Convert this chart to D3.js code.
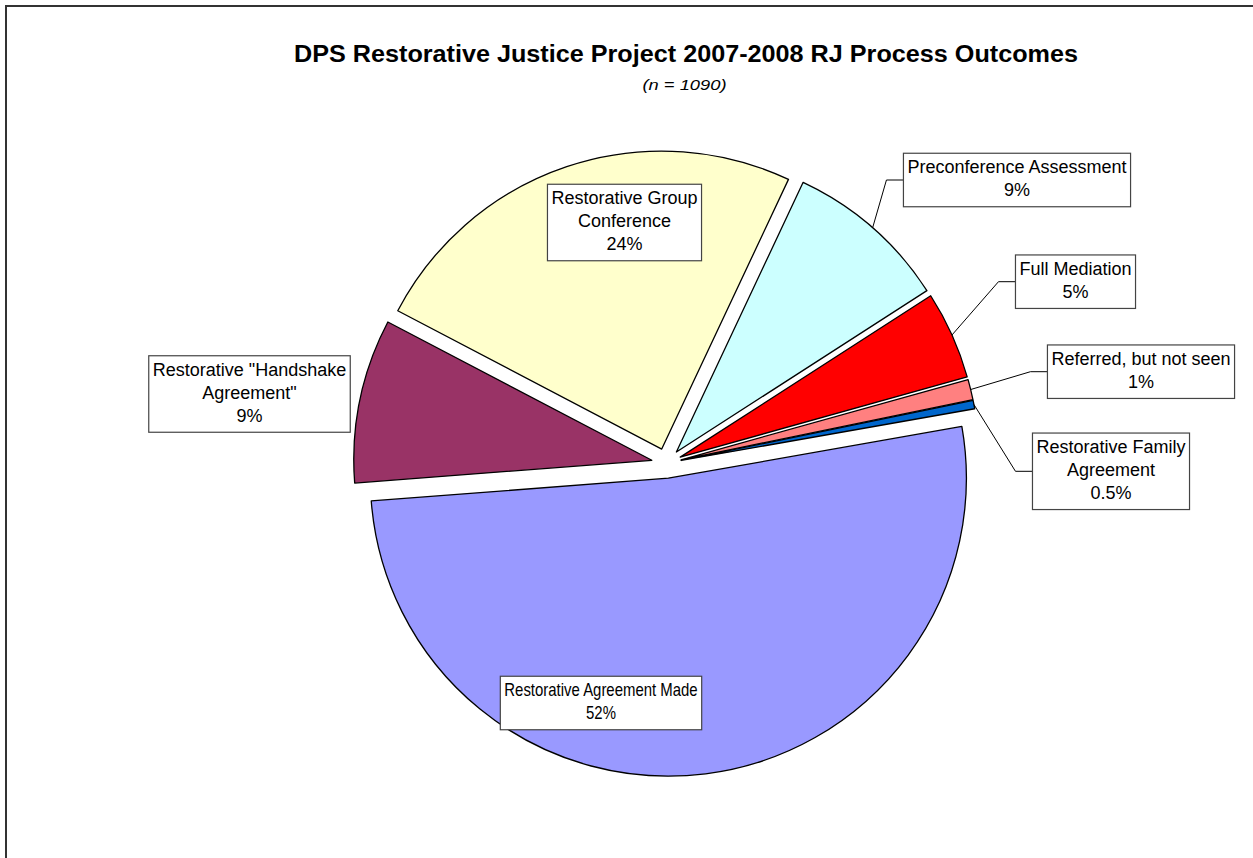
<!DOCTYPE html>
<html>
<head>
<meta charset="utf-8">
<script src="https://cdn.jsdelivr.net/npm/d3@7"></script>
<style>
  body { margin: 0; background: #fff; }
  svg { display: block; font-family: Arial, "Liberation Sans", sans-serif; }
</style>
</head>
<body>
<svg id="chart" width="1253" height="858"></svg>
<script>
// data (n = 1090)
const categories = [
  "Restorative Agreement Made",
  "Restorative \"Handshake Agreement\"",
  "Restorative Group Conference",
  "Preconference Assessment",
  "Full Mediation",
  "Referred, but not seen",
  "Restorative Family Agreement"
]
const counts = [562, 97, 265, 97, 52, 12, 5]
const sliceColors = ["#9999FF", "#993366", "#FFFFCC", "#CCFFFF", "#FF0000", "#FF8080", "#0066CC"]

// how each label wraps, as in the original
const labelLines = [
  ["Restorative Agreement Made"],
  ["Restorative \"Handshake", "Agreement\""],
  ["Restorative Group", "Conference"],
  ["Preconference Assessment"],
  ["Full Mediation"],
  ["Referred, but not seen"],
  ["Restorative Family", "Agreement"]
]

// layout only
const labelCenters = [[601, 703], [249.5, 394], [624.5, 222.5], [1017, 180], [1075.5, 281.7], [1141, 371.7], [1111, 471.3]]
const labelSquash = [0.83, 1, 1, 1, 1, 1, 1]
const hasLeader = [false, false, false, true, true, true, true]

const cx = 666.5, cy = 463.3, radius = 298, explode = 15
const lineH = 23, fontSize = 18

const svg = d3.select("#chart")
const total = d3.sum(counts)

// outer frame
svg.append("rect")
  .attr("x", 6).attr("y", 6)
  .attr("width", 1300).attr("height", 900)
  .attr("fill", "white")
  .attr("stroke", "#333").attr("stroke-width", 2)

// title
svg.append("text")
  .attr("x", 686).attr("y", 62)
  .attr("text-anchor", "middle")
  .attr("font-weight", "bold")
  .attr("font-size", 23)
  .attr("textLength", 784)
  .attr("lengthAdjust", "spacingAndGlyphs")
  .text("DPS Restorative Justice Project 2007-2008 RJ Process Outcomes")

svg.append("text")
  .attr("x", 684.5).attr("y", 90)
  .attr("text-anchor", "middle")
  .attr("font-style", "italic")
  .attr("font-size", 15)
  .attr("textLength", 84)
  .attr("lengthAdjust", "spacingAndGlyphs")
  .text("(n = " + total + ")")

const start = 80 * Math.PI / 180
const pie = d3.pie().sort(null).value(d => d)
  .startAngle(start).endAngle(start + 2 * Math.PI)
const arcs = pie(counts)

const arc = d3.arc().innerRadius(0).outerRadius(radius)

const mid = d => (d.startAngle + d.endAngle) / 2
const offset = (d, r) => [r * Math.sin(mid(d)), -r * Math.cos(mid(d))]

const g = svg.append("g").attr("transform", `translate(${cx},${cy})`)

g.selectAll("path.slice")
  .data(arcs)
  .enter()
  .append("path")
  .attr("class", "slice")
  .attr("transform", d => { let o = offset(d, explode); return `translate(${o[0]},${o[1]})` })
  .attr("d", arc)
  .attr("fill", (d, i) => sliceColors[i])
  .attr("stroke", "black")
  .attr("stroke-width", 1.3)
  .attr("stroke-linejoin", "round")

const pctText = v => {
  let p = v / total * 100
  return (p < 1 ? d3.format(".1f")(p) : Math.round(p)) + "%"
}

// leader line start points on the arc
arcs.forEach((d, i) => {
  if (!hasLeader[i]) return
  let o = offset(d, explode + radius)
  d.leader = { x0: cx + o[0], y0: cy + o[1] }
})

const labels = svg.append("g")

arcs.forEach((d, i) => {
  let lines = labelLines[i].concat([pctText(d.data)])
  let c = labelCenters[i]
  let s = labelSquash[i]
  let lg = labels.append("g")
  let box = lg.append("rect")
  let txt = lg.append("text")
    .attr("text-anchor", "middle")
    .attr("font-size", fontSize)
    .attr("fill", "black")
    .attr("transform", `translate(${c[0]},0) scale(${s},1) translate(${-c[0]},0)`)
  let h = lines.length * lineH + 7.5
  let top = c[1] - h / 2
  lines.forEach((l, k) => {
    txt.append("tspan")
      .attr("x", c[0])
      .attr("y", top + 20 + k * lineH)
      .text(l)
  })
  let w = txt.node().getBBox().width * s + 8
  box.attr("x", c[0] - w / 2).attr("y", top)
    .attr("width", w).attr("height", h)
    .attr("fill", "white")
    .attr("stroke", "#444").attr("stroke-width", 1.2)

  if (d.leader) {
    let left = c[0] - w / 2
    labels.insert("path", ":first-child")
      .attr("d", `M${d.leader.x0},${d.leader.y0}L${left - 17},${c[1]}L${left},${c[1]}`)
      .attr("fill", "none")
      .attr("stroke", "black")
      .attr("stroke-width", 1)
  }
})
</script>
</body>
</html>
